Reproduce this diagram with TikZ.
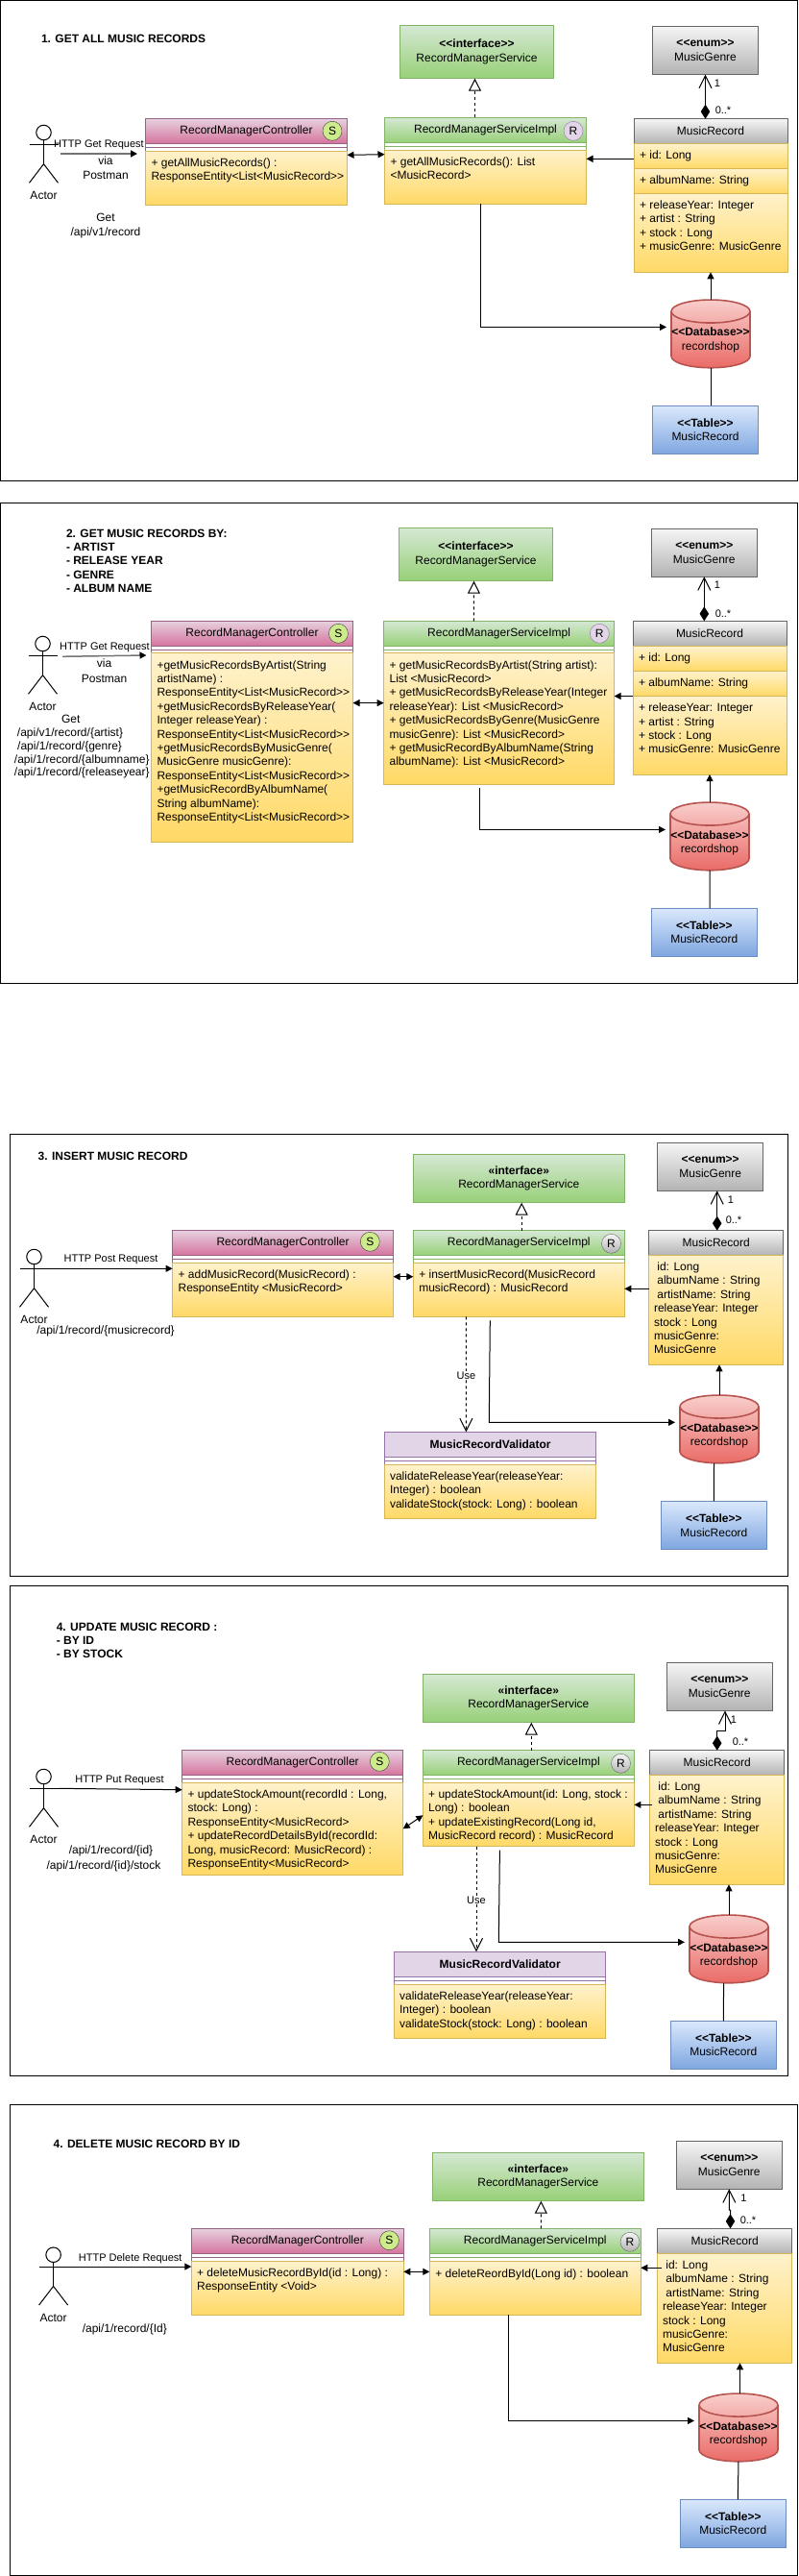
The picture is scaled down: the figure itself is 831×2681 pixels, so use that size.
\documentclass[tikz,border=0pt]{standalone}
\usepackage{fontspec}
\setmainfont{Liberation Sans}
\usetikzlibrary{positioning,arrows.meta}
\definecolor{pinkA}{HTML}{E6D0DE}
\definecolor{pinkB}{HTML}{D5739D}
\definecolor{pinkL}{HTML}{996185}
\definecolor{greenA}{HTML}{D5E8D4}
\definecolor{greenB}{HTML}{97D077}
\definecolor{greenL}{HTML}{82B366}
\definecolor{yellowA}{HTML}{FFF2CC}
\definecolor{yellowB}{HTML}{FFD966}
\definecolor{yellowL}{HTML}{D6B656}
\definecolor{grayA}{HTML}{F5F5F5}
\definecolor{grayB}{HTML}{B3B3B3}
\definecolor{grayL}{HTML}{666666}
\definecolor{redA}{HTML}{F8CECC}
\definecolor{redB}{HTML}{EA6B66}
\definecolor{redL}{HTML}{B85450}
\definecolor{blueA}{HTML}{DAE8FC}
\definecolor{blueB}{HTML}{7EA6E0}
\definecolor{blueL}{HTML}{6C8EBF}
\definecolor{purpleA}{HTML}{E1D5E7}
\definecolor{purpleL}{HTML}{9673A6}
\definecolor{limeA}{HTML}{CDEB8B}
\definecolor{limeL}{HTML}{36393D}
\newcommand{\ftxt}{\fontsize{12}{14.4}\selectfont}
\newcommand{\fsmall}{\fontsize{11}{13.2}\selectfont}
\tikzset{
  x=1pt, y=-1pt,
  wh/.style 2 args = {minimum width=#1, minimum height=#2},
  box/.style = {rectangle, draw, line width=1pt, inner sep=0pt, outer sep=0pt,
                anchor=north west, font=\ftxt, align=center},
  frame/.style = {draw=black, line width=1pt},
  pinkhead/.style = {box, draw=pinkL, top color=pinkA, bottom color=pinkB},
  greenhead/.style = {box, draw=greenL, top color=greenA, bottom color=greenB},
  grayhead/.style = {box, draw=grayL, top color=grayA, bottom color=grayB},
  bluehead/.style = {box, draw=blueL, top color=blueA, bottom color=blueB},
  purplehead/.style = {box, draw=purpleL, fill=purpleA, font=\ftxt\bfseries},
  bodybox/.style = {box, draw=yellowL, top color=yellowA, bottom color=yellowB},
  band/.style = {box, fill=white},
  txt/.style = {inner sep=0pt, outer sep=0pt, font=\ftxt, align=center},
  smalltxt/.style = {txt, font=\fsmall},
  bodytxt/.style = {txt, align=left, anchor=north west, execute at begin node=\strut},
  celltxt/.style = {txt, anchor=west},
  titletxt/.style = {txt, align=left, anchor=north west, font=\ftxt\bfseries,
                     execute at begin node=\strut},
  sbadge/.style = {circle, draw=limeL, fill=limeA, minimum size=20pt, inner sep=0pt, font=\ftxt},
  rbadge/.style = {circle, draw=purpleL, fill=purpleA, minimum size=20pt, inner sep=0pt, font=\ftxt},
  gbadge/.style = {circle, draw=grayL, top color=grayA, bottom color=grayB, minimum size=20pt,
                   inner sep=0pt, font=\ftxt},
  dbox/.style = {rectangle, minimum width=82pt, minimum height=70.7pt, inner sep=0pt, outer sep=0pt},
  link/.style = {line width=1pt, -{Triangle[length=7pt,width=7pt]}},
  twolink/.style = {line width=1pt, {Triangle[length=7pt,width=7pt]}-{Triangle[length=7pt,width=7pt]}},
  greylink/.style = {line width=1.5pt, draw=black!55, -{Triangle[length=7pt,width=7pt,black]}},
  plain/.style = {line width=1pt},
  realize/.style = {line width=1pt, dash pattern=on 3pt off 3pt,
                    -{Triangle[length=13pt,width=13pt,fill=white]}},
  uselink/.style = {line width=1pt, dash pattern=on 3pt off 3pt,
                    -{Straight Barb[length=13pt,width=13pt]}},
  compose/.style = {line width=1pt, {Diamond[length=15pt,width=9.5pt]}-{Straight Barb[length=13pt,width=13pt]}},
  dbfig/.pic = {
    \path[draw=redL, line width=1.6pt, top color=redA, bottom color=redB]
      (-41,-23.35) arc[start angle=180, end angle=0, x radius=41pt, y radius=12pt]
      -- (41,23.35) arc[start angle=0, end angle=-180, x radius=41pt, y radius=12pt] -- cycle;
    \draw[redL, line width=1.6pt]
      (-41,-23.35) arc[start angle=180, end angle=360, x radius=41pt, y radius=12pt];
  },
  actorfig/.pic = {
    \node[circle, draw, line width=1pt, minimum size=15.5pt, inner sep=0pt] (-head) at (0,0) {};
    \coordinate (-hip) at (0,32.7);
    \coordinate (-l) at (-15,12.3);
    \coordinate (-r) at (15,12.3);
    \coordinate (-lf) at (-15,52.3);
    \coordinate (-rf) at (15,52.3);
    \draw[plain] (-head) -- (-hip);
    \draw[plain] (-l) -- (-r);
    \draw[plain] (-lf) -- (-hip) -- (-rf);
    \node[txt] (-name) at (0,65.7) {Actor};
  }
}
\begin{document}
\begin{tikzpicture}
\useasboundingbox (0,0) rectangle (831,2681);
\draw[frame] (0.5,0.5) rectangle (830.3,500.3);
\node[titletxt] (title1) at (43,34.7) {1. GET ALL MUSIC RECORDS};
\pic (a1) at (45.5,138) {actorfig};
\node[smalltxt] (h1) at (103,151.3) {HTTP Get Request};
\node[txt] (p1) at (110,175) {via\\[1pt]Postman};
\node[txt] (u1) at (110,235) {Get\\[1pt]/api/v1/record};
\coordinate (a1e) at (63,160);
\coordinate (c1e) at (143,160);
\node[pinkhead,wh={210}{26}] (c1h) at (151.5,123.7) {RecordManagerController};
\node[band,draw=pinkL,below=0pt of c1h,wh={210}{7.6}] (c1s) {};
\draw[plain,pinkL] (c1s.west) -- (c1s.east);
\node[bodybox,below=0pt of c1s,wh={210}{56}] (c1b) {};
\node[bodytxt] (c1t) at ([shift={(6,7.4)}]c1b.north west) {+ getAllMusicRecords() :\\ResponseEntity<List<MusicRecord>{}>};
\node[sbadge] (c1o) at (346,136.3) {S};
\node[greenhead,wh={210}{26.4}] (i1h) at (400.5,122.3) {RecordManagerServiceImpl};
\node[band,draw=greenL,below=0pt of i1h,wh={210}{7.6}] (i1s) {};
\draw[plain,greenL] (i1s.west) -- (i1s.east);
\node[bodybox,below=0pt of i1s,wh={210}{56}] (i1b) {};
\node[bodytxt] (i1t) at ([shift={(6,7.4)}]i1b.north west) {+ getAllMusicRecords(): List\\<MusicRecord>};
\node[rbadge] (i1o) at (597,136.3) {R};
\node[greenhead,wh={160}{55.4}] (s1) at (416.5,26.3) {\textbf{<{}<interface>{}>}\\RecordManagerService};
\node[grayhead,wh={110}{50.4}] (g1) at (679.5,27.3) {\textbf{<{}<enum>{}>}\\MusicGenre};
\node[grayhead,wh={160}{25.6}] (m1h) at (660,123.7) {MusicRecord};
\node[bodybox,below=0pt of m1h,wh={160}{26}] (m1a) {};
\node[bodybox,below=0pt of m1a,wh={160}{26}] (m1c) {};
\node[bodybox,below=0pt of m1c,wh={160}{82}] (m1d) {};
\node[celltxt] (m1at) at ([xshift=6]m1a.west) {+ id: Long};
\node[celltxt] (m1ct) at ([xshift=6]m1c.west) {+ albumName: String};
\node[bodytxt] (m1dt) at ([shift={(6,7.4)}]m1d.north west) {+ releaseYear: Integer\\+ artist : String\\+ stock : Long\\+ musicGenre: MusicGenre};
\pic at (740,347.4) {dbfig};
\node[dbox] (d1) at (740,347.4) {};
\node[txt] (d1t) at (740,354) {\textbf{<{}<Database>{}>}\\recordshop};
\node[bluehead,wh={110}{50.4}] (t1) at (679.5,422.3) {\textbf{<{}<Table>{}>}\\MusicRecord};
\node[smalltxt] (n1a) at (747,87) {1};
\node[smalltxt] (n1b) at (753,114.7) {0..*};
\draw[greylink] (a1e) -- (c1e);
\draw[twolink] ([yshift=-4]c1b.north east) -- ([yshift=-4.4]i1b.north west);
\draw[link] ([yshift=-3]m1a.west) -- ([yshift=-3]m1a.west -| i1b.east);
\draw[link] ([xshift=-5.5]i1b.south) |- ([shift={(-5,-7)}]d1.west);
\draw[link] (d1.north) -- (m1d.south);
\draw[plain] (d1.south) -- ([xshift=5.5]t1.north);
\draw[realize] ([xshift=-11]i1h.north) -- ([xshift=-2]s1.south);
\draw[compose] (m1h.north -| g1.south) -- (g1.south);
\draw[frame] (0.5,523.3) rectangle (830.3,1023.3);
\node[titletxt] (title2) at (69,550.7) {2. GET MUSIC RECORDS BY:\\- ARTIST\\- RELEASE YEAR\\- GENRE\\- ALBUM NAME};
\pic (a2) at (44.5,670) {actorfig};
\node[smalltxt] (h2) at (109,673.3) {HTTP Get Request};
\node[txt] (p2) at (108.6,698.3) {via\\[1pt]Postman};
\node[txt] (u2) at (73.7,748.7) {Get};
\node[txt] (u2a) at (73,763.7) {/api/v1/record/\{artist\}};
\node[txt] (u2b) at (72.6,777) {/api/1/record/\{genre\}};
\node[txt] (u2c) at (85.3,791) {/api/1/record/\{albumname\}};
\node[txt] (u2d) at (85.3,804) {/api/1/record/\{releaseyear\}};
\coordinate (a2e) at (65,683.3);
\node[pinkhead,wh={210}{26}] (c2h) at (157.5,646.3) {RecordManagerController};
\node[band,draw=pinkL,below=0pt of c2h,wh={210}{7.6}] (c2s) {};
\draw[plain,pinkL] (c2s.west) -- (c2s.east);
\node[bodybox,below=0pt of c2s,wh={210}{196.3}] (c2b) {};
\node[bodytxt] (c2t) at ([shift={(6,7.4)}]c2b.north west) {+getMusicRecordsByArtist(String\\artistName) :\\ResponseEntity<List<MusicRecord>{}>\\+getMusicRecordsByReleaseYear(\\Integer releaseYear) :\\ResponseEntity<List<MusicRecord>{}>\\+getMusicRecordsByMusicGenre(\\MusicGenre musicGenre):\\ResponseEntity<List<MusicRecord>{}>\\+getMusicRecordByAlbumName(\\String albumName):\\ResponseEntity<List<MusicRecord>{}>};
\node[sbadge] (c2o) at (352.4,659.3) {S};
\node[greenhead,wh={240}{26}] (i2h) at (399.6,646.3) {RecordManagerServiceImpl};
\node[band,draw=greenL,below=0pt of i2h,wh={240}{7.6}] (i2s) {};
\draw[plain,greenL] (i2s.west) -- (i2s.east);
\node[bodybox,below=0pt of i2s,wh={240}{136.4}] (i2b) {};
\node[bodytxt] (i2t) at ([shift={(6,7.4)}]i2b.north west) {+ getMusicRecordsByArtist(String artist):\\List <MusicRecord>\\+ getMusicRecordsByReleaseYear(Integer\\releaseYear): List <MusicRecord>\\+ getMusicRecordsByGenre(MusicGenre\\musicGenre): List <MusicRecord>\\+ getMusicRecordByAlbumName(String\\albumName): List <MusicRecord>};
\node[rbadge] (i2o) at (624.3,659.3) {R};
\node[greenhead,wh={160}{55.4}] (s2) at (415.5,549.3) {\textbf{<{}<interface>{}>}\\RecordManagerService};
\node[grayhead,wh={110}{50}] (g2) at (678.3,550.3) {\textbf{<{}<enum>{}>}\\MusicGenre};
\node[grayhead,wh={160}{26}] (m2h) at (659,646.3) {MusicRecord};
\node[bodybox,below=0pt of m2h,wh={160}{26.2}] (m2a) {};
\node[bodybox,below=0pt of m2a,wh={160}{26}] (m2c) {};
\node[bodybox,below=0pt of m2c,wh={160}{81.6}] (m2d) {};
\node[celltxt] (m2at) at ([xshift=6]m2a.west) {+ id: Long};
\node[celltxt] (m2ct) at ([xshift=6]m2c.west) {+ albumName: String};
\node[bodytxt] (m2dt) at ([shift={(6,7.4)}]m2d.north west) {+ releaseYear: Integer\\+ artist : String\\+ stock : Long\\+ musicGenre: MusicGenre};
\pic at (739,870.4) {dbfig};
\node[dbox] (d2) at (739,870.4) {};
\node[txt] (d2t) at (739,877.3) {\textbf{<{}<Database>{}>}\\recordshop};
\node[bluehead,wh={110}{50}] (t2) at (678.3,945.3) {\textbf{<{}<Table>{}>}\\MusicRecord};
\node[smalltxt] (n2a) at (747,608.7) {1};
\node[smalltxt] (n2b) at (753,638.3) {0..*};
\draw[greylink] (a2e) -- ([shift={(-5,9.7)}]c2h.south west);
\draw[twolink] ([yshift=-51.7]c2b.north east) -- ([yshift=-51.7]i2b.north west);
\draw[link] (m2c.south west) -- (i2b.east |- m2c.south);
\draw[link] ([shift={(-20.6,4)}]i2b.south) |- ([shift={(-5,-7)}]d2.west);
\draw[link] (d2.north) -- (m2d.south);
\draw[plain] (d2.south) -- ([xshift=5.8]t2.north);
\draw[realize] ([xshift=-26.2]i2h.north) -- ([xshift=-2]s2.south);
\draw[compose] (m2h.north -| g2.south) -- (g2.south);
\draw[frame] (10.6,1180.3) rectangle (820,1640.3);
\node[titletxt] (title3) at (39.7,1197.7) {3. INSERT MUSIC RECORD};
\pic (a3) at (35.5,1308) {actorfig};
\node[smalltxt] (h3) at (115.5,1311.3) {HTTP Post Request};
\node[txt] (u3) at (110,1385) {/api/1/record/\{musicrecord\}};
\node[pinkhead,wh={230}{26}] (c3h) at (179.6,1280.7) {RecordManagerController};
\node[band,draw=pinkL,below=0pt of c3h,wh={230}{7.6}] (c3s) {};
\draw[plain,pinkL] (c3s.west) -- (c3s.east);
\node[bodybox,below=0pt of c3s,wh={230}{56}] (c3b) {};
\node[bodytxt] (c3t) at ([shift={(6,7.4)}]c3b.north west) {+ addMusicRecord(MusicRecord) :\\ResponseEntity <MusicRecord>};
\node[sbadge] (c3o) at (385.3,1292.3) {S};
\node[greenhead,wh={220}{26}] (i3h) at (430.3,1280.7) {RecordManagerServiceImpl};
\node[band,draw=greenL,below=0pt of i3h,wh={220}{7.6}] (i3s) {};
\draw[plain,greenL] (i3s.west) -- (i3s.east);
\node[bodybox,below=0pt of i3s,wh={220}{56}] (i3b) {};
\node[bodytxt] (i3t) at ([shift={(6,7.4)}]i3b.north west) {+ insertMusicRecord(MusicRecord\\musicRecord) : MusicRecord};
\node[gbadge] (i3o) at (636.5,1294.3) {R};
\node[greenhead,wh={220}{50.4}] (s3) at (430.3,1201.3) {\textbf{«interface»}\\RecordManagerService};
\node[grayhead,wh={110}{50}] (g3) at (684.7,1189.3) {\textbf{<{}<enum>{}>}\\MusicGenre};
\node[grayhead,wh={140}{25.6}] (m3h) at (675.7,1280.7) {MusicRecord};
\node[bodybox,below=0pt of m3h,wh={140}{114}] (m3b) {};
\node[bodytxt] (m3t) at ([shift={(5.3,7.4)}]m3b.north west) {\hspace{3.4pt}id: Long\\\hspace{3.4pt}albumName : String\\\hspace{3.4pt}artistName: String\\releaseYear: Integer\\stock : Long\\musicGenre:\\MusicGenre};
\pic at (749,1487.4) {dbfig};
\node[dbox] (d3) at (749,1487.4) {};
\node[txt] (d3t) at (749,1494.2) {\textbf{<{}<Database>{}>}\\recordshop};
\node[bluehead,wh={110}{50.4}] (t3) at (688.4,1562.3) {\textbf{<{}<Table>{}>}\\MusicRecord};
\node[purplehead,wh={220}{26}] (v3h) at (400.6,1490.3) {MusicRecordValidator};
\node[band,draw=purpleL,below=0pt of v3h,wh={220}{8}] (v3s) {};
\draw[plain,purpleL] (v3s.west) -- (v3s.east);
\node[bodybox,below=0pt of v3s,wh={220}{56.4}] (v3b) {};
\node[bodytxt] (v3t) at ([shift={(5.4,7.4)}]v3b.north west) {validateReleaseYear(releaseYear:\\Integer) : boolean\\validateStock(stock: Long) : boolean};
\node[smalltxt] (n3a) at (761,1249) {1};
\node[smalltxt] (n3b) at (764,1269.7) {0..*};
\coordinate (j3) at (509.3,1480.3);
\draw[link] (a3-r) -- (a3-r -| c3h.west);
\draw[twolink] ([yshift=-14.4]c3b.north east) -- ([yshift=-14.4]i3b.north west);
\draw[link] ([yshift=22]m3b.west) -- ([yshift=22]m3b.west -| i3b.east);
\draw[uselink] ([xshift=-55]i3b.south) -- ([xshift=-25.2]v3h.north);
\node[smalltxt,fill=white] (l3) at (485.4,1431.3) {Use};
\draw[link] ([shift={(-30,4)}]i3b.south) -- (j3) -- ([xshift=-5]j3 -| d3.west);
\draw[link] (d3.north) -- (m3b.south -| d3.north);
\draw[plain] ([xshift=-5.5]d3.south) -- (t3.north);
\draw[realize] ([xshift=2.9]i3h.north) -- ([xshift=2.9]s3.south);
\draw[compose] ([xshift=1]m3h.north) -- ([xshift=7]g3.south);
\draw[frame] (10.6,1650.3) rectangle (820.5,2160.7);
\node[titletxt] (title4) at (58.8,1688.7) {4. UPDATE MUSIC RECORD :\\- BY ID\\- BY STOCK};
\pic (a4) at (45.5,1849) {actorfig};
\node[smalltxt] (h4) at (124.5,1853.3) {HTTP Put Request};
\node[txt] (u4a) at (115.5,1926) {/api/1/record/\{id\}};
\node[txt] (u4b) at (108,1942.7) {/api/1/record/\{id\}/stock};
\node[pinkhead,wh={230}{26}] (c4h) at (189.7,1821.7) {RecordManagerController};
\node[band,draw=pinkL,below=0pt of c4h,wh={230}{7.6}] (c4s) {};
\draw[plain,pinkL] (c4s.west) -- (c4s.east);
\node[bodybox,below=0pt of c4s,wh={230}{96.4}] (c4b) {};
\node[bodytxt] (c4t) at ([shift={(5.8,7.4)}]c4b.north west) {+ updateStockAmount(recordId : Long,\\stock: Long) :\\ResponseEntity<MusicRecord>\\+ updateRecordDetailsById(recordId:\\Long, musicRecord: MusicRecord) :\\ResponseEntity<MusicRecord>};
\node[sbadge] (c4o) at (395.3,1833.3) {S};
\node[greenhead,wh={220}{26}] (i4h) at (440.4,1821.7) {RecordManagerServiceImpl};
\node[band,draw=greenL,below=0pt of i4h,wh={220}{7.6}] (i4s) {};
\draw[plain,greenL] (i4s.west) -- (i4s.east);
\node[bodybox,below=0pt of i4s,wh={220}{66.4}] (i4b) {};
\node[bodytxt] (i4t) at ([shift={(5.8,7.4)}]i4b.north west) {+ updateStockAmount(id: Long, stock :\\Long) : boolean\\+ updateExistingRecord(Long id,\\MusicRecord record) : MusicRecord};
\node[gbadge] (i4o) at (646.5,1835.3) {R};
\node[greenhead,wh={220}{50.4}] (s4) at (440.4,1742.3) {\textbf{«interface»}\\RecordManagerService};
\node[grayhead,wh={110}{50}] (g4) at (694.3,1730.3) {\textbf{<{}<enum>{}>}\\MusicGenre};
\node[grayhead,wh={140}{25.6}] (m4h) at (676.7,1821.7) {MusicRecord};
\node[bodybox,below=0pt of m4h,wh={140}{114}] (m4b) {};
\node[bodytxt] (m4t) at ([shift={(5.3,7.4)}]m4b.north west) {\hspace{3.4pt}id: Long\\\hspace{3.4pt}albumName : String\\\hspace{3.4pt}artistName: String\\releaseYear: Integer\\stock : Long\\musicGenre:\\MusicGenre};
\pic at (759,2028.4) {dbfig};
\node[dbox] (d4) at (759,2028.4) {};
\node[txt] (d4t) at (759,2035.2) {\textbf{<{}<Database>{}>}\\recordshop};
\node[bluehead,wh={110}{50}] (t4) at (698.3,2103.3) {\textbf{<{}<Table>{}>}\\MusicRecord};
\node[purplehead,wh={220}{26}] (v4h) at (410.7,2031.3) {MusicRecordValidator};
\node[band,draw=purpleL,below=0pt of v4h,wh={220}{8}] (v4s) {};
\draw[plain,purpleL] (v4s.west) -- (v4s.east);
\node[bodybox,below=0pt of v4s,wh={220}{56.4}] (v4b) {};
\node[bodytxt] (v4t) at ([shift={(5.4,7.4)}]v4b.north west) {validateReleaseYear(releaseYear:\\Integer) : boolean\\validateStock(stock: Long) : boolean};
\node[smalltxt] (n4a) at (764,1790) {1};
\node[smalltxt] (n4b) at (771,1812.7) {0..*};
\coordinate (m4e) at (679.4,1878.3);
\coordinate (j4) at (519.3,2021.3);
\coordinate (k4a) at (746.7,1801);
\coordinate (k4b) at (755,1801);
\draw[link] (a4-r) -- ([yshift=-15]c4h.south west);
\draw[twolink] ([yshift=-48]c4b.north east) -- ([yshift=-34]i4b.north west);
\draw[link] (m4e) -- (m4e -| i4b.east);
\draw[uselink] ([xshift=-54.4]i4b.south) -- ([xshift=-24.7]v4h.north);
\node[smalltxt,fill=white] (l4) at (496,1977.3) {Use};
\draw[link] ([shift={(-30,4)}]i4b.south) -- (j4) -- ([xshift=-5]j4 -| d4.west);
\draw[link] (d4.north) -- (m4b.south -| d4.north);
\draw[plain] ([xshift=-5.4]d4.south) -- (t4.north);
\draw[realize] ([xshift=2.9]i4h.north) -- ([xshift=2.9]s4.south);
\draw[compose] (m4h.north) -- (k4a) -- (k4b) -- ([xshift=5.7]g4.south);
\draw[frame] (10.6,2190.3) rectangle (830.7,2680);
\node[titletxt] (title5) at (55.6,2225.7) {4. DELETE MUSIC RECORD BY ID};
\pic (a5) at (55.6,2346.7) {actorfig};
\node[smalltxt] (h5) at (135.7,2350.3) {HTTP Delete Request};
\node[txt] (u5) at (129.8,2424) {/api/1/record/\{Id\}};
\node[pinkhead,wh={221}{26.4}] (c5h) at (199.3,2319.3) {RecordManagerController};
\node[band,draw=pinkL,below=0pt of c5h,wh={221}{7.6}] (c5s) {};
\draw[plain,pinkL] (c5s.west) -- (c5s.east);
\node[bodybox,below=0pt of c5s,wh={221}{56}] (c5b) {};
\node[bodytxt] (c5t) at ([shift={(5.8,7.4)}]c5b.north west) {+ deleteMusicRecordById(id : Long) :\\ResponseEntity <Void>};
\node[sbadge] (c5o) at (405.4,2331.7) {S};
\node[greenhead,wh={220}{26.4}] (i5h) at (447.3,2319.3) {RecordManagerServiceImpl};
\node[band,draw=greenL,below=0pt of i5h,wh={220}{7.6}] (i5s) {};
\draw[plain,greenL] (i5s.west) -- (i5s.east);
\node[bodybox,below=0pt of i5s,wh={220}{56}] (i5b) {};
\node[bodytxt] (i5t) at ([shift={(6,7.4)}]i5b.north west) {+ deleteReordById(Long id) : boolean};
\node[gbadge] (i5o) at (656,2333.3) {R};
\node[greenhead,wh={220}{50.4}] (s5) at (450.4,2240.3) {\textbf{«interface»}\\RecordManagerService};
\node[grayhead,wh={110}{50}] (g5) at (704.3,2228.3) {\textbf{<{}<enum>{}>}\\MusicGenre};
\node[grayhead,wh={140}{26}] (m5h) at (684.7,2319.3) {MusicRecord};
\node[bodybox,below=0pt of m5h,wh={140}{114}] (m5b) {};
\node[bodytxt] (m5t) at ([shift={(5.3,7.4)}]m5b.north west) {\hspace{3.4pt}id: Long\\\hspace{3.4pt}albumName : String\\\hspace{3.4pt}artistName: String\\releaseYear: Integer\\stock : Long\\musicGenre:\\MusicGenre};
\pic at (769,2526.4) {dbfig};
\node[dbox] (d5) at (769,2526.4) {};
\node[txt] (d5t) at (769,2533.2) {\textbf{<{}<Database>{}>}\\recordshop};
\node[bluehead,wh={110}{50}] (t5) at (708.3,2601.3) {\textbf{<{}<Table>{}>}\\MusicRecord};
\node[smalltxt] (n5a) at (774.3,2287.7) {1};
\node[smalltxt] (n5b) at (779,2310.3) {0..*};
\coordinate (m5e) at (689,2360.3);
\coordinate (k5a) at (760.5,2300);
\coordinate (k5b) at (759.4,2300);
\draw[link] (a5-r) -- (a5-r -| c5h.west);
\draw[twolink] ([yshift=-11]c5b.north east) -- ([yshift=-11]i5b.north west);
\draw[link] (m5e) -- (m5e -| i5b.east);
\draw[link] ([xshift=-28]i5b.south) |- ([shift={(-5,-7)}]d5.west);
\draw[link] ([xshift=1.5]d5.north) -- ([xshift=1.5]d5.north |- m5b.south);
\draw[plain] (d5.south) -- ([xshift=5]t5.north);
\draw[realize] ([xshift=6]i5h.north) -- ([xshift=3]s5.south);
\draw[compose] ([xshift=5.8]m5h.north) -- (k5a) -- (k5b) -- (g5.south);
\end{tikzpicture}
\end{document}
